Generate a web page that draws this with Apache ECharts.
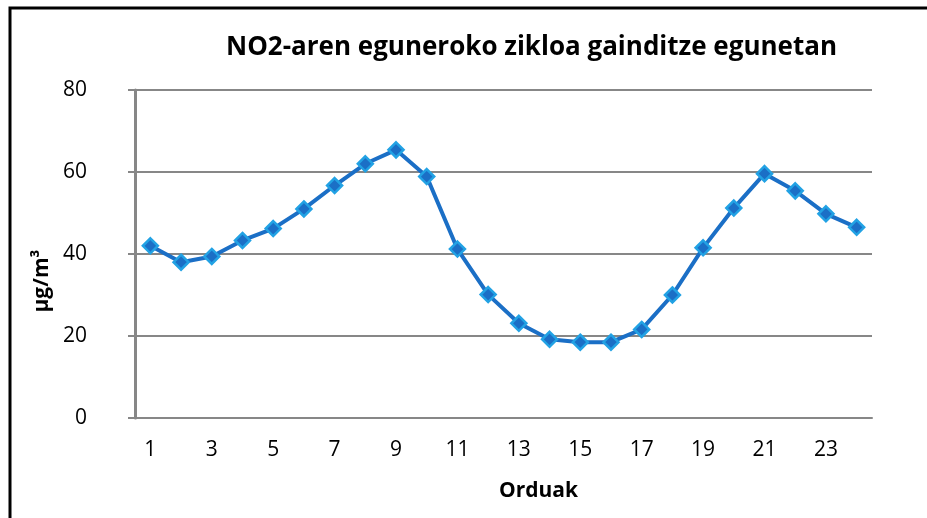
<!DOCTYPE html>
<html>
<head>
<meta charset="utf-8">
<title>NO2-aren eguneroko zikloa</title>
<script src="https://cdn.jsdelivr.net/npm/echarts@6/dist/echarts.min.js"></script>
<style>
  html, body { margin: 0; padding: 0; background: #fff; }
  #chart { width: 927px; height: 518px; }
</style>
</head>
<body>
<div id="chart"></div>
<script>
// orduak (1..24)
const hours = ['1', '2', '3', '4', '5', '6', '7', '8', '9', '10', '11', '12',
  '13', '14', '15', '16', '17', '18', '19', '20', '21', '22', '23', '24']
// NO2 batez bestekoa, µg/m³
const no2Values = [42.0, 38.0, 39.4, 43.3, 46.2, 51.0, 56.7, 62.0, 65.4, 58.9, 41.2, 30.1,
  23.1, 19.2, 18.5, 18.5, 21.6, 30.0, 41.5, 51.2, 59.6, 55.4, 49.8, 46.5]
const yTicks = [0, 20, 40, 60, 80]

const font = 'Open Sans'
const gray = '#878787'

const chart = echarts.init(document.getElementById('chart'))
chart.setOption({
  animation: false,
  title: {
    text: 'NO2-aren eguneroko zikloa gainditze egunetan',
    left: 221,
    top: 30,
    textStyle: { fontFamily: font, fontWeight: 'bold', fontSize: 26, color: '#000' }
  },
  grid: { left: 135, right: 55, top: 90, bottom: 100 },
  xAxis: {
    type: 'category',
    data: hours,
    name: 'Orduak',
    nameLocation: 'middle',
    nameGap: 63,
    nameTextStyle: { fontFamily: font, fontWeight: 'bold', fontSize: 21, color: '#000', padding: [0, 0, 0, 70] },
    axisLine: { lineStyle: { color: gray, width: 2 } },
    axisTick: { alignWithLabel: true, interval: 0, length: 6, lineStyle: { color: gray, width: 2 } },
    axisLabel: { interval: 1, margin: 22, fontFamily: font, fontSize: 21, color: '#000' }
  },
  yAxis: {
    type: 'value',
    min: yTicks[0],
    max: yTicks[yTicks.length - 1],
    interval: 20,
    name: 'µg/m³',
    nameLocation: 'middle',
    nameGap: 78,
    nameTextStyle: { fontFamily: font, fontWeight: 'bold', fontSize: 21, color: '#000', padding: [0, 54, 0, 0] },
    axisLine: { show: true, lineStyle: { color: gray, width: 3 } },
    axisTick: { show: true, length: 7, lineStyle: { color: gray, width: 2 } },
    splitLine: { lineStyle: { color: gray, width: 2 } },
    axisLabel: { margin: 48, fontFamily: font, fontSize: 21, color: '#000' }
  },
  series: [{
    type: 'line',
    data: no2Values,
    symbol: 'diamond',
    symbolSize: 15,
    lineStyle: { color: '#1B6FC6', width: 4 },
    itemStyle: { color: '#1B6FC6', borderColor: '#22A2E4', borderWidth: 2.5 }
  }],
  graphic: [
    // kanpoko markoa (goian eta ezkerrean)
    { type: 'polyline', shape: { points: [[10, 530], [10, 8], [940, 8]] }, style: { stroke: '#000', lineWidth: 3, fill: null } }
  ]
})
</script>
</body>
</html>
